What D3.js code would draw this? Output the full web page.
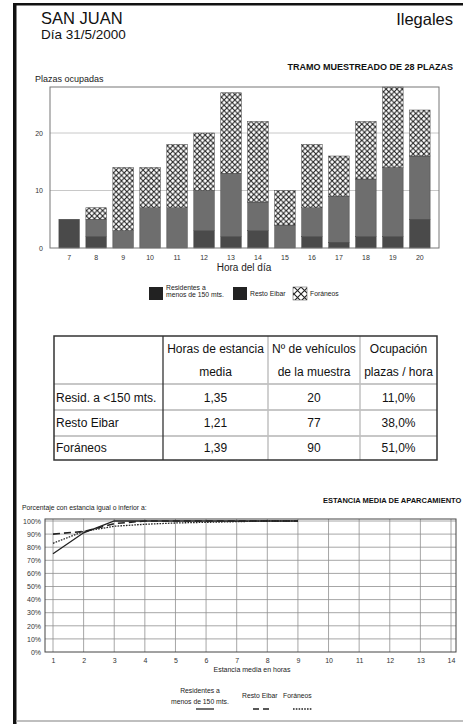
<!DOCTYPE html>
<html>
<head>
<meta charset="utf-8">
<script src="https://cdn.jsdelivr.net/npm/d3@7"></script>
<style>
  html, body { margin: 0; padding: 0; background: #fff; }
  svg { display: block; font-family: "Liberation Sans", Arial, sans-serif; }
</style>
</head>
<body>
<svg id="chart" width="463" height="724"></svg>
<script>
// ---- Data ----
const hours = [7, 8, 9, 10, 11, 12, 13, 14, 15, 16, 17, 18, 19, 20];
const residentes = [5, 2, 0, 0, 0, 3, 2, 3, 0, 2, 1, 2, 2, 5];
const restoEibar = [0, 3, 3, 7, 7, 7, 11, 5, 4, 5, 8, 10, 12, 11];
const foraneos = [0, 2, 11, 7, 11, 10, 14, 14, 6, 11, 7, 10, 14, 8];
const barTicks = [0, 10, 20];

const tableHeader = [["", ""], ["Horas de estancia", "media"], ["Nº de vehículos", "de la muestra"], ["Ocupación", "plazas / hora"]];
const tableRows = ["Resid. a <150 mts.", "Resto Eibar", "Foráneos"];
const tableEstancia = ["1,35", "1,21", "1,39"];
const tableVehiculos = ["20", "77", "90"];
const tableOcupacion = ["11,0%", "38,0%", "51,0%"];

const stayHours = [1, 2, 3, 4, 5, 6, 7, 8, 9];
const residentesPct = [75, 91, 100, 100, 100, 100, 100, 100, 100];
const restoPct = [90, 92, 98, 100, 100, 100, 100, 100, 100];
const foraneosPct = [83, 92, 96, 97.5, 98.5, 99, 99.5, 100, 100];
const stayTicks = [1, 2, 3, 4, 5, 6, 7, 8, 9, 10, 11, 12, 13, 14];
const pctTicks = [0, 10, 20, 30, 40, 50, 60, 70, 80, 90, 100];

const svg = d3.select("#chart");
const F = "Liberation Sans, Arial, sans-serif";

// ---- Page frame ----
svg.append("rect").attr("x", 13).attr("y", 3).attr("width", 450).attr("height", 2.5).attr("fill", "#111");
svg.append("rect").attr("x", 13).attr("y", 3).attr("width", 3.5).attr("height", 721).attr("fill", "#111");
svg.append("line").attr("x1", 16).attr("x2", 463).attr("y1", 721).attr("y2", 721).attr("stroke", "#aaa").attr("stroke-width", 1.5);

// ---- Header ----
svg.append("text").attr("x", 41).attr("y", 24).attr("font-size", 16.5).attr("fill", "#111").text("SAN JUAN");
svg.append("text").attr("x", 41).attr("y", 39).attr("font-size", 13.5).attr("fill", "#111").text("Día 31/5/2000");
svg.append("text").attr("x", 453).attr("y", 25).attr("font-size", 16.5).attr("text-anchor", "end").attr("fill", "#111").text("Ilegales");
svg.append("text").attr("x", 453).attr("y", 70).attr("font-size", 9).attr("font-weight", "bold").attr("text-anchor", "end").attr("fill", "#111").text("TRAMO MUESTREADO DE 28 PLAZAS");
svg.append("text").attr("x", 35).attr("y", 82).attr("font-size", 9).attr("fill", "#222").text("Plazas ocupadas");

// ---- Patterns ----
const defs = svg.append("defs");
function hatch(id, s, w) {
  const p = defs.append("pattern").attr("id", id).attr("patternUnits", "userSpaceOnUse")
    .attr("width", s).attr("height", s);
  p.append("rect").attr("width", s).attr("height", s).attr("fill", "#fff");
  p.append("path").attr("d", `M0,0L${s},${s}M0,${s}L${s},0`).attr("stroke", "#222").attr("stroke-width", w);
}
hatch("hatch", 5.4, 1.1);
hatch("hatchBig", 7, 1.1);

// ---- Bar chart ----
const bx0 = 50, bx1 = 439, by0 = 248, by1 = 87;
const xb = d3.scaleBand().domain(hours).range([bx0, bx1]).paddingInner(0.24).paddingOuter(0.33);
const yb = d3.scaleLinear().domain([0, 28]).range([by0, by1]);

svg.append("g").selectAll("line").data(barTicks.filter(d => d > 0)).join("line")
  .attr("x1", bx0).attr("x2", bx1).attr("y1", d => yb(d)).attr("y2", d => yb(d))
  .attr("stroke", "#c8c8c8").attr("stroke-width", 1);

const colors = ["#4a4a4a", "#6e6e6e", "url(#hatch)"];
const series = [residentes, restoEibar, foraneos];
const stack = hours.map((h, i) => {
  let base = 0;
  return series.map((s, k) => {
    const seg = { h, k, y0: base, y1: base + s[i] };
    base += s[i];
    return seg;
  });
}).flat().filter(d => d.y1 > d.y0);

svg.append("g").selectAll("rect").data(stack).join("rect")
  .attr("x", d => xb(d.h)).attr("width", xb.bandwidth())
  .attr("y", d => yb(d.y1)).attr("height", d => yb(d.y0) - yb(d.y1))
  .attr("fill", d => colors[d.k]).attr("stroke", "#444").attr("stroke-width", 0.5);

svg.append("rect").attr("x", bx0).attr("y", by1).attr("width", bx1 - bx0).attr("height", by0 - by1)
  .attr("fill", "none").attr("stroke", "#777").attr("stroke-width", 1);

svg.append("g").attr("transform", `translate(0,${by0})`)
  .call(d3.axisBottom(xb).tickSize(0).tickPadding(7))
  .call(g => g.select(".domain").remove())
  .call(g => g.selectAll("text").attr("font-size", 7).attr("font-family", F).attr("fill", "#333"));
svg.append("g").attr("transform", `translate(${bx0},0)`)
  .call(d3.axisLeft(yb).tickValues(barTicks).tickSize(0).tickPadding(7))
  .call(g => g.select(".domain").remove())
  .call(g => g.selectAll("text").attr("font-size", 7).attr("font-family", F).attr("fill", "#333"));
svg.append("text").attr("x", 244).attr("y", 271).attr("font-size", 10).attr("text-anchor", "middle").attr("fill", "#222").text("Hora del día");

// bar legend
const lg = svg.append("g").attr("font-size", 6.8).attr("fill", "#222");
lg.append("rect").attr("x", 149).attr("y", 287).attr("width", 14).attr("height", 13).attr("fill", "#222");
lg.append("text").attr("x", 166).attr("y", 290).text("Residentes a");
lg.append("text").attr("x", 166).attr("y", 297).text("menos de 150 mts.");
lg.append("rect").attr("x", 233).attr("y", 287).attr("width", 14).attr("height", 13).attr("fill", "#222");
lg.append("text").attr("x", 250).attr("y", 296).text("Resto Eibar");
lg.append("rect").attr("x", 293).attr("y", 287).attr("width", 14).attr("height", 13).attr("fill", "url(#hatchBig)").attr("stroke", "#444").attr("stroke-width", 0.5);
lg.append("text").attr("x", 310).attr("y", 296).text("Foráneos");

// ---- Table ----
const tx = [54, 163, 268, 360, 437];
const ty = [336, 384, 410, 436, 460];
const tg = svg.append("g").attr("font-size", 12).attr("fill", "#111");
tg.selectAll("line.h").data(ty.slice(1, 4)).join("line")
  .attr("x1", tx[0]).attr("x2", tx[4]).attr("y1", d => d).attr("y2", d => d)
  .attr("stroke", "#b5b5b5").attr("stroke-width", 1.5);
tg.selectAll("line.v").data(tx.slice(2, 4)).join("line")
  .attr("x1", d => d).attr("x2", d => d).attr("y1", ty[0]).attr("y2", ty[4])
  .attr("stroke", "#c0c0c0").attr("stroke-width", 1.5);
tg.append("line").attr("x1", tx[1]).attr("x2", tx[1]).attr("y1", ty[0]).attr("y2", ty[4]).attr("stroke", "#333").attr("stroke-width", 1.3);
tg.append("rect").attr("x", tx[0]).attr("y", ty[0]).attr("width", tx[4] - tx[0]).attr("height", ty[4] - ty[0])
  .attr("fill", "none").attr("stroke", "#333").attr("stroke-width", 1.5);

tableHeader.forEach((hd, c) => {
  if (c === 0) return;
  const cx = (tx[c] + tx[c + 1]) / 2;
  tg.append("text").attr("x", cx).attr("y", 353).attr("text-anchor", "middle").text(hd[0]);
  tg.append("text").attr("x", cx).attr("y", 376).attr("text-anchor", "middle").text(hd[1]);
});
const rowBase = [402, 427, 452];
tableRows.forEach((r, i) => {
  tg.append("text").attr("x", 56).attr("y", rowBase[i]).text(r);
  [tableEstancia, tableVehiculos, tableOcupacion].forEach((col, c) => {
    tg.append("text").attr("x", (tx[c + 1] + tx[c + 2]) / 2).attr("y", rowBase[i]).attr("text-anchor", "middle").text(col[i]);
  });
});

// ---- Line chart ----
const lx0 = 45, lx1 = 456, ly0 = 652, ly1 = 519;
const xl = d3.scaleLinear().domain([1, 14]).range([53, 451]);
const yl = d3.scaleLinear().domain([0, 100]).range([652, 521]);

svg.append("text").attr("x", 323).attr("y", 503).attr("font-size", 7.5).attr("font-weight", "bold").attr("fill", "#111").text("ESTANCIA MEDIA DE APARCAMIENTO");
svg.append("text").attr("x", 22).attr("y", 510).attr("font-size", 6.8).attr("fill", "#222").text("Porcentaje con estancia igual o inferior a:");

const grid = svg.append("g").attr("stroke", "#8f8f8f").attr("stroke-width", 0.8);
grid.selectAll("line.v").data(stayTicks).join("line")
  .attr("x1", d => xl(d)).attr("x2", d => xl(d)).attr("y1", ly1).attr("y2", ly0);
grid.selectAll("line.h").data(pctTicks.slice(1)).join("line")
  .attr("x1", lx0).attr("x2", lx1).attr("y1", d => yl(d)).attr("y2", d => yl(d));
svg.append("rect").attr("x", lx0).attr("y", ly1).attr("width", lx1 - lx0).attr("height", ly0 - ly1)
  .attr("fill", "none").attr("stroke", "#444").attr("stroke-width", 1);

svg.append("g").attr("transform", `translate(0,${ly0})`)
  .call(d3.axisBottom(xl).tickValues(stayTicks).tickFormat(d3.format("d")).tickSize(0).tickPadding(6))
  .call(g => g.select(".domain").remove())
  .call(g => g.selectAll("text").attr("font-size", 7).attr("font-family", F).attr("fill", "#333"));
svg.append("g").attr("transform", `translate(${lx0},0)`)
  .call(d3.axisLeft(yl).tickValues(pctTicks).tickFormat(d => d + "%").tickSize(0).tickPadding(4))
  .call(g => g.select(".domain").remove())
  .call(g => g.selectAll("text").attr("font-size", 7).attr("font-family", F).attr("fill", "#333"));
svg.append("text").attr("x", 252).attr("y", 672).attr("font-size", 7).attr("text-anchor", "middle").attr("fill", "#222").text("Estancia media en horas");

const line = d3.line().x((d, i) => xl(stayHours[i])).y(d => yl(d));
svg.append("path").datum(residentesPct).attr("d", line).attr("fill", "none").attr("stroke", "#222").attr("stroke-width", 1.3);
svg.append("path").datum(restoPct).attr("d", line).attr("fill", "none").attr("stroke", "#222").attr("stroke-width", 1.6).attr("stroke-dasharray", "7,4");
svg.append("path").datum(foraneosPct).attr("d", line).attr("fill", "none").attr("stroke", "#222").attr("stroke-width", 1.3).attr("stroke-dasharray", "1.6,1.2");

// line legend
const ll = svg.append("g").attr("font-size", 6.8).attr("fill", "#222");
ll.append("text").attr("x", 200).attr("y", 693).attr("text-anchor", "middle").text("Residentes a");
ll.append("text").attr("x", 200).attr("y", 704).attr("text-anchor", "middle").text("menos de 150 mts.");
ll.append("text").attr("x", 242).attr("y", 698).text("Resto Eibar");
ll.append("text").attr("x", 283).attr("y", 698).text("Foráneos");
ll.append("line").attr("x1", 196).attr("x2", 214).attr("y1", 709).attr("y2", 709).attr("stroke", "#222").attr("stroke-width", 1.3);
ll.append("line").attr("x1", 253).attr("x2", 269).attr("y1", 709).attr("y2", 709).attr("stroke", "#222").attr("stroke-width", 1.6).attr("stroke-dasharray", "6,4");
ll.append("line").attr("x1", 293).attr("x2", 312).attr("y1", 709).attr("y2", 709).attr("stroke", "#222").attr("stroke-width", 1.3).attr("stroke-dasharray", "1.6,1.2");
</script>
</body>
</html>
